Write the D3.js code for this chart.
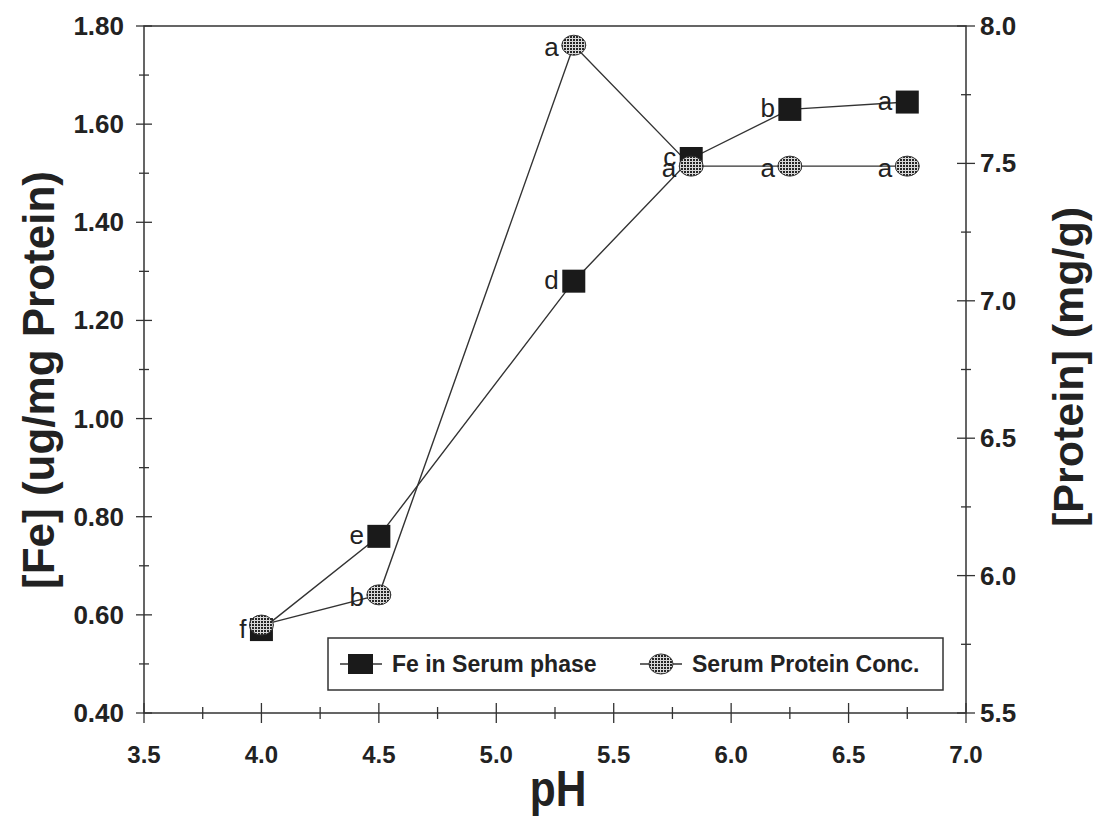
<!DOCTYPE html>
<html>
<head>
<meta charset="utf-8">
<script src="https://cdn.jsdelivr.net/npm/d3@7"></script>
<style>
  body { margin: 0; background: #fff; }
  text { font-family: "Liberation Sans", Arial, sans-serif; fill: #222; }
</style>
</head>
<body>
<div id="chart"></div>
<script>
// pH values, shared by both series
const phValues = [4.0, 4.5, 5.33, 5.83, 6.25, 6.75];

// Fe in serum phase (left axis, ug/mg protein)
const feValues = [0.57, 0.76, 1.28, 1.53, 1.63, 1.645];
const feLetters = ["f", "e", "d", "c", "b", "a"];

// Serum protein concentration (right axis, mg/g)
const proteinValues = [5.82, 5.93, 7.93, 7.49, 7.49, 7.49];
const proteinLetters = ["", "b", "a", "a", "a", "a"];

// tick labels
const xTicks = [3.5, 4.0, 4.5, 5.0, 5.5, 6.0, 6.5, 7.0];
const leftTicks = [0.4, 0.6, 0.8, 1.0, 1.2, 1.4, 1.6, 1.8];
const rightTicks = [5.5, 6.0, 6.5, 7.0, 7.5, 8.0];

const legendNames = ["Fe in Serum phase", "Serum Protein Conc."];

const W = 1096, H = 825;
const plot = {left: 144, right: 966, top: 26, bottom: 713};

const svg = d3.select("#chart").append("svg")
    .attr("width", W)
    .attr("height", H);

// crosshatch fill for the protein markers
const defs = svg.append("defs");
const pat = defs.append("pattern")
    .attr("id", "hatch")
    .attr("width", 3)
    .attr("height", 3)
    .attr("patternUnits", "userSpaceOnUse");
pat.append("rect").attr("width", 3).attr("height", 3).attr("fill", "#d8d8d8");
pat.append("rect").attr("width", 2).attr("height", 2).attr("fill", "#262626");

const x = d3.scaleLinear().domain([3.5, 7.0]).range([plot.left, plot.right]);
const yL = d3.scaleLinear().domain([0.4, 1.8]).range([plot.bottom, plot.top]);
const yR = d3.scaleLinear().domain([5.5, 8.0]).range([plot.bottom, plot.top]);

const axisColor = "#333";

// frame
svg.append("rect")
    .attr("x", plot.left)
    .attr("y", plot.top)
    .attr("width", plot.right - plot.left)
    .attr("height", plot.bottom - plot.top)
    .attr("fill", "none")
    .attr("stroke", axisColor)
    .attr("stroke-width", 1.5);

// tick marks (crossing the axis line)
function crossTicks(values, pos, horizontal, len) {
    svg.append("g").selectAll("line")
        .data(values)
        .enter()
        .append("line")
        .attr("x1", d => horizontal ? pos(d) : pos.fixed - len)
        .attr("x2", d => horizontal ? pos(d) : pos.fixed + len)
        .attr("y1", d => horizontal ? pos.fixed - len : pos(d))
        .attr("y2", d => horizontal ? pos.fixed + len : pos(d))
        .attr("stroke", axisColor)
        .attr("stroke-width", 1.3);
}

const xPos = d => x(d); xPos.fixed = plot.bottom;
crossTicks(d3.range(3.5, 7.01, 0.5), xPos, true, 10);
crossTicks(d3.range(3.75, 7.0, 0.5), xPos, true, 6);

const lPos = d => yL(d); lPos.fixed = plot.left;
crossTicks(d3.range(0.4, 1.81, 0.2), lPos, false, 8);
crossTicks(d3.range(0.5, 1.8, 0.2), lPos, false, 5);

const rPos = d => yR(d); rPos.fixed = plot.right;
crossTicks(d3.range(5.5, 8.01, 0.5), rPos, false, 9);
crossTicks(d3.range(5.75, 8.0, 0.5), rPos, false, 5);

// tick labels
svg.append("g").selectAll("text")
    .data(xTicks)
    .enter()
    .append("text")
    .attr("x", d => x(d))
    .attr("y", plot.bottom + 50)
    .attr("text-anchor", "middle")
    .attr("font-size", "24px")
    .attr("font-weight", "bold")
    .text(d => d.toFixed(1));

svg.append("g").selectAll("text")
    .data(leftTicks)
    .enter()
    .append("text")
    .attr("x", plot.left - 20)
    .attr("y", d => yL(d) + 9)
    .attr("text-anchor", "end")
    .attr("font-size", "26px")
    .attr("font-weight", "bold")
    .text(d => d.toFixed(2));

svg.append("g").selectAll("text")
    .data(rightTicks)
    .enter()
    .append("text")
    .attr("x", plot.right + 14)
    .attr("y", d => yR(d) + 9)
    .attr("text-anchor", "start")
    .attr("font-size", "26px")
    .attr("font-weight", "bold")
    .text(d => d.toFixed(1));

// axis titles
svg.append("text")
    .attr("transform", `translate(558, 806) scale(0.85, 1)`)
    .attr("text-anchor", "middle")
    .attr("font-size", "50px")
    .attr("font-weight", "bold")
    .text("pH");

svg.append("text")
    .attr("transform", `translate(54, 380) rotate(-90)`)
    .attr("text-anchor", "middle")
    .attr("font-size", "44px")
    .attr("font-weight", "bold")
    .text("[Fe] (ug/mg Protein)");

svg.append("text")
    .attr("transform", `translate(1083, 367) rotate(-90)`)
    .attr("text-anchor", "middle")
    .attr("font-size", "43px")
    .attr("font-weight", "bold")
    .text("[Protein] (mg/g)");

// series lines
const feData = phValues.map((p, i) => ({ph: p, v: feValues[i], label: feLetters[i]}));
const protData = phValues.map((p, i) => ({ph: p, v: proteinValues[i], label: proteinLetters[i]}));

const feLine = d3.line().x(d => x(d.ph)).y(d => yL(d.v));
const protLine = d3.line().x(d => x(d.ph)).y(d => yR(d.v));

svg.append("path")
    .datum(protData)
    .attr("d", protLine)
    .attr("fill", "none")
    .attr("stroke", "#333")
    .attr("stroke-width", 1.4);

svg.append("path")
    .datum(feData)
    .attr("d", feLine)
    .attr("fill", "none")
    .attr("stroke", "#333")
    .attr("stroke-width", 1.4);

// markers
const sq = 23;
svg.append("g").selectAll("rect")
    .data(feData)
    .enter()
    .append("rect")
    .attr("x", d => x(d.ph) - sq / 2)
    .attr("y", d => yL(d.v) - sq / 2)
    .attr("width", sq)
    .attr("height", sq)
    .attr("fill", "#1a1a1a");

svg.append("g").selectAll("ellipse")
    .data(protData)
    .enter()
    .append("ellipse")
    .attr("cx", d => x(d.ph))
    .attr("cy", d => yR(d.v))
    .attr("rx", 12)
    .attr("ry", 10)
    .attr("fill", "url(#hatch)")
    .attr("stroke", "#333")
    .attr("stroke-width", 1);

// significance letters
svg.append("g").selectAll("text")
    .data(feData)
    .enter()
    .append("text")
    .attr("x", d => x(d.ph) - 15)
    .attr("y", d => yL(d.v) + 8)
    .attr("text-anchor", "end")
    .attr("font-size", "26px")
    .text(d => d.label);

svg.append("g").selectAll("text")
    .data(protData)
    .enter()
    .append("text")
    .attr("x", d => x(d.ph) - 15)
    .attr("y", d => yR(d.v) + 11)
    .attr("text-anchor", "end")
    .attr("font-size", "26px")
    .text(d => d.label);

// legend
const leg = svg.append("g").attr("transform", "translate(328, 638)");
leg.append("rect")
    .attr("width", 615)
    .attr("height", 52)
    .attr("fill", "#fff")
    .attr("stroke", axisColor)
    .attr("stroke-width", 1.5);

const legItems = [{x: 12, name: legendNames[0], kind: "sq"}, {x: 312, name: legendNames[1], kind: "el"}];
legItems.forEach(it => {
    const g = leg.append("g").attr("transform", `translate(${it.x}, 26)`);
    g.append("line").attr("x1", 0).attr("x2", 42).attr("stroke", "#333").attr("stroke-width", 1.4);
    if (it.kind === "sq") {
        g.append("rect").attr("x", 8).attr("y", -10).attr("width", 25).attr("height", 20).attr("fill", "#1a1a1a");
    } else {
        g.append("ellipse").attr("cx", 21).attr("cy", 0).attr("rx", 12).attr("ry", 10)
            .attr("fill", "url(#hatch)").attr("stroke", "#333");
    }
    g.append("text")
        .attr("x", 52)
        .attr("y", 8)
        .attr("font-size", "23px")
        .attr("font-weight", "bold")
        .text(it.name);
});
</script>
</body>
</html>
